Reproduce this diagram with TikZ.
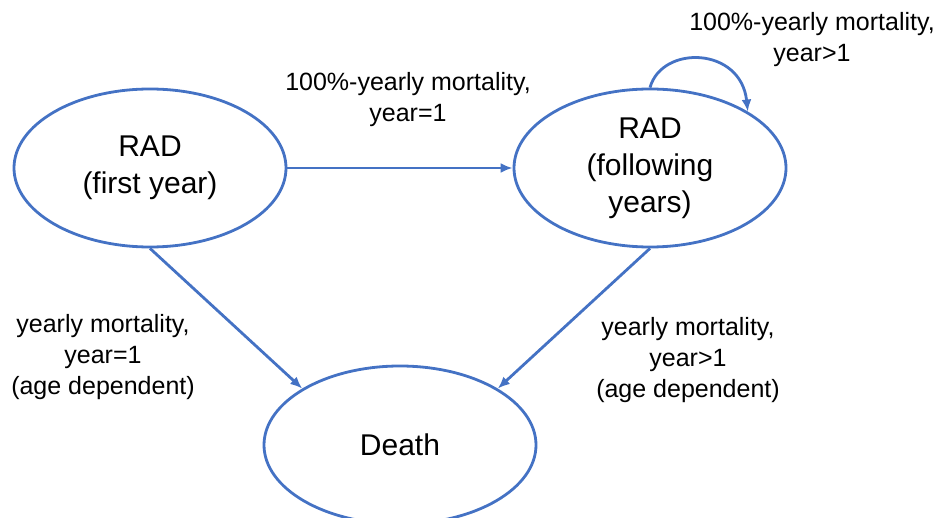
\documentclass[tikz,border=0pt]{standalone}
\usepackage{fontspec}
\setmainfont{Liberation Sans}
\usetikzlibrary{shapes.geometric,arrows.meta}

\definecolor{stateblue}{HTML}{4472C4}
\tikzset{
  state/.style={ellipse, draw=stateblue, line width=2.8pt, minimum width=272pt, minimum height=158pt, align=center, font=\fontsize{30}{37}\selectfont},
  flow/.style={stateblue, line width=2.8pt, -{Latex[length=12pt,width=10pt]}},
  lbl/.style={align=center, font=\fontsize{25}{31}\selectfont}
}

\begin{document}
\begin{tikzpicture}[x=1pt, y=-1pt]
\useasboundingbox (0,0) rectangle (944,518);
\clip (0,0) rectangle (944,518);
\node[state] (rad1) at (150,168) {RAD\\(first year)};
\node[state] (rad2) at (650,168) {RAD\\(following\\years)};
\node[state] (death) at (400,445) {Death};
\node[lbl] (l12) at (408,100) {100\%-yearly mortality,\\year=1};
\node[lbl] (l22) at (812,40) {100\%-yearly mortality,\\year>1};
\node[lbl] (l1d) at (103,357) {yearly mortality,\\year=1\\(age dependent)};
\node[lbl] (l2d) at (688,360) {yearly mortality,\\year>1\\(age dependent)};
\draw [flow] (rad1) -- (rad2);
\draw [flow] (rad2.north) .. controls +(12,-43) and +(-7,-65) .. (rad2.30);
\draw [flow] (rad1.south) -- (death.150);
\draw [flow] (rad2.south) -- (death.30);
\end{tikzpicture}
\end{document}
